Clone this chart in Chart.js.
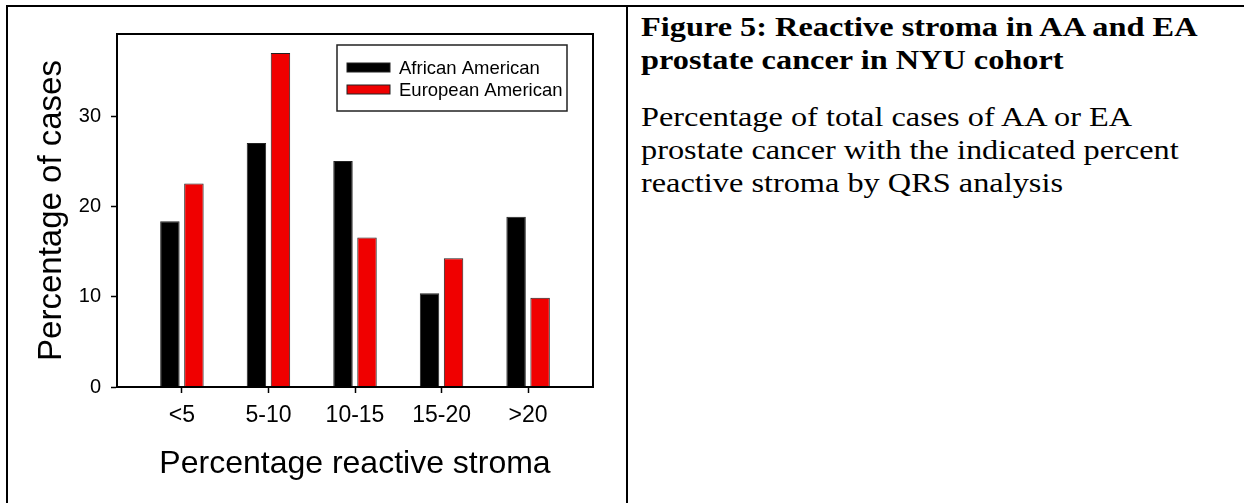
<!DOCTYPE html>
<html>
<head>
<meta charset="utf-8">
<script src="https://cdn.jsdelivr.net/npm/chart.js@4/dist/chart.umd.min.js"></script>
<style>
  html, body { margin: 0; padding: 0; background: #fff; }
  body { width: 1244px; height: 503px; position: relative; overflow: hidden; }
  #frame { position: absolute; left: 6px; top: 5px; width: 1300px; height: 600px;
           border-top: 2px solid #000; border-left: 2px solid #000; }
  #divider { position: absolute; left: 626px; top: 5px; width: 0; height: 600px; border-left: 2px solid #000; }
  #chartBox { position: absolute; left: 8px; top: 7px; width: 618px; height: 496px; }
  #caption { position: absolute; left: 641px; top: 11px; width: 463px;
             transform: scaleX(1.22); transform-origin: 0 0;
             font-family: "Liberation Serif", "Times New Roman", serif; color: #000; }
  #caption h1 { margin: 0; font-size: 26.5px; line-height: 32.6px; font-weight: bold; }
  #caption p { margin: 0; padding-top: 25px; font-size: 26.5px; line-height: 33px; }
</style>
</head>
<body>
<div id="frame"></div>
<div id="divider"></div>
<div id="chartBox"><canvas id="chart" width="618" height="496"></canvas></div>
<div id="caption">
  <h1>Figure 5: Reactive stroma in AA and EA prostate cancer in NYU cohort</h1>
  <p>Percentage of total cases of AA or EA prostate cancer with the indicated percent reactive stroma by QRS analysis</p>
</div>
<script>
// Percentage reactive stroma groups
const categories = ['<5', '5-10', '10-15', '15-20', '>20'];
const africanAmerican = [18.4, 27.1, 25.1, 10.4, 18.9];
const europeanAmerican = [22.6, 37.1, 16.6, 14.3, 9.9];
const yTicks = [0, 10, 20, 30];

const FONT = '"Liberation Sans", Arial, sans-serif';

// bars on a linear x scale so the end margins match the original
const toPoints = vals => vals.map((v, i) => ({ x: i, y: v }));

// full box round the plot
const plotBox = {
  id: 'plotBox',
  afterDraw(chart) {
    const { ctx, chartArea: a } = chart;
    ctx.save();
    ctx.strokeStyle = '#000';
    ctx.lineWidth = 2;
    ctx.strokeRect(a.left, a.top, a.right - a.left, a.bottom - a.top);
    ctx.restore();
  }
};

// boxed legend in the top right corner of the plot
const boxLegend = {
  id: 'boxLegend',
  afterDraw(chart) {
    const { ctx, chartArea: a } = chart;
    const w = 230, h = 66;
    const x = a.right - 26 - w, y = a.top + 11;
    ctx.save();
    ctx.lineWidth = 1.5;
    ctx.strokeStyle = '#222';
    ctx.strokeRect(x, y, w, h);
    ctx.font = '18.5px ' + FONT;
    ctx.textBaseline = 'middle';
    chart.data.datasets.forEach((ds, i) => {
      const cy = y + 23 + i * 22;
      ctx.fillStyle = ds.backgroundColor;
      ctx.fillRect(x + 10, cy - 5, 43, 9);
      ctx.lineWidth = 1;
      ctx.strokeStyle = '#222';
      ctx.strokeRect(x + 10, cy - 5, 43, 9);
      ctx.fillStyle = '#000';
      ctx.fillText(ds.label, x + 62, cy + 1);
    });
    ctx.restore();
  }
};

new Chart(document.getElementById('chart'), {
  type: 'bar',
  data: {
    datasets: [
      { label: 'African American', data: toPoints(africanAmerican),
        backgroundColor: '#000000', borderColor: '#222', borderWidth: 1 },
      { label: 'European American', data: toPoints(europeanAmerican),
        backgroundColor: '#f00000', borderColor: '#222', borderWidth: 1 }
    ]
  },
  options: {
    responsive: false,
    animation: false,
    layout: { padding: { left: 0, right: 33, top: 27, bottom: 20 } },
    categoryPercentage: 0.555,
    barPercentage: 0.81,
    plugins: { legend: { display: false }, tooltip: { enabled: false } },
    scales: {
      x: {
        type: 'linear',
        offset: false,
        min: -0.75,
        max: 4.75,
        afterBuildTicks: s => { s.ticks = categories.map((c, i) => ({ value: i })); },
        afterFit: s => { s.height = 96; },
        border: { display: true, color: '#000', width: 2 },
        grid: { offset: false, drawOnChartArea: false, drawTicks: true, tickLength: 6, tickWidth: 1.5, tickColor: '#000' },
        ticks: { color: '#000', padding: 9, maxRotation: 0, autoSkip: false, font: { family: FONT, size: 23 },
                 callback: v => categories[v] },
        title: { display: true, text: 'Percentage reactive stroma', color: '#000',
                 padding: { top: 0, bottom: 0 }, font: { family: FONT, size: 32 } }
      },
      y: {
        min: 0,
        max: 39.2,
        afterBuildTicks: s => { s.ticks = yTicks.map(v => ({ value: v })); },
        afterFit: s => { s.width = 109; },
        border: { display: true, color: '#000', width: 2 },
        grid: { drawOnChartArea: false, drawTicks: true, tickLength: 6, tickWidth: 1.5, tickColor: '#000' },
        ticks: { color: '#000', padding: 10, font: { family: FONT, size: 20 } },
        title: { display: true, text: 'Percentage of cases', color: '#000',
                 padding: { top: 24, bottom: 0 }, font: { family: FONT, size: 33 } }
      }
    }
  },
  plugins: [plotBox, boxLegend]
});
</script>
</body>
</html>
